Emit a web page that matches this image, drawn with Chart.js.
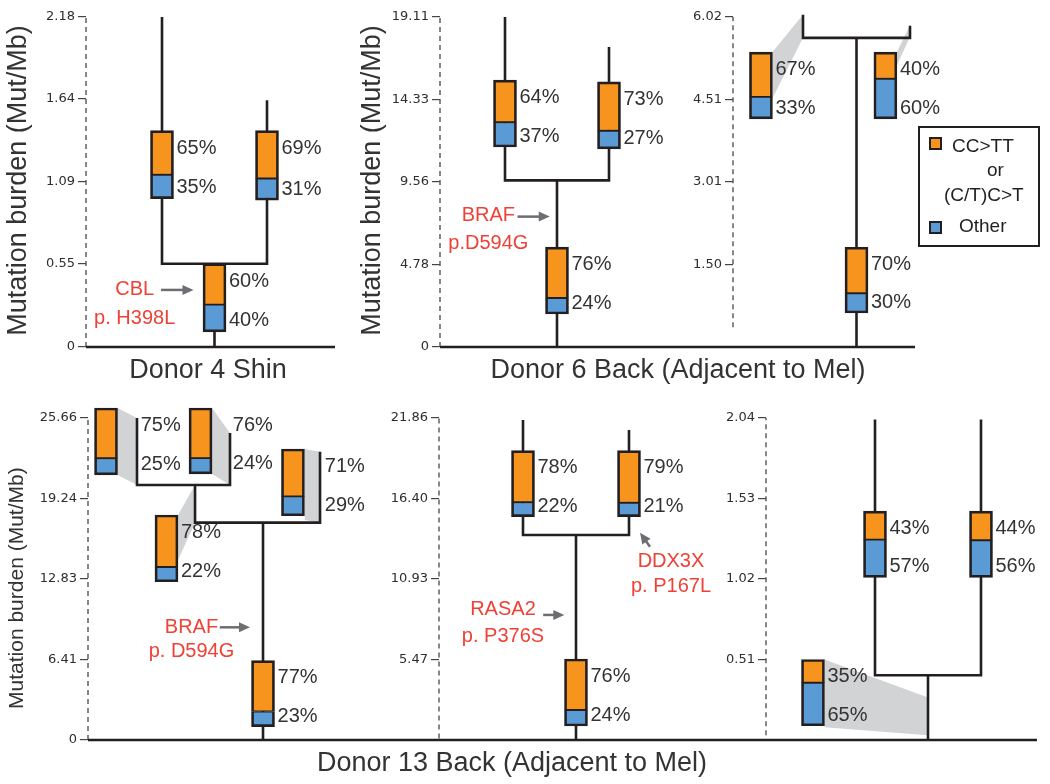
<!DOCTYPE html>
<html lang="en">
<head>
<meta charset="utf-8">
<title>Mutation burden trees</title>
<script src="https://cdn.jsdelivr.net/npm/chart.js@4.4.1/dist/chart.umd.min.js"></script>
<style>
  html, body { margin: 0; background: #fff; }
  #fig { position: relative; width: 1050px; height: 784px; overflow: hidden;
         font-family: "Liberation Sans", Arial, sans-serif; color: #333; }
  #fig canvas { position: absolute; left: 0; top: 0; }
  .ttl { position: absolute; font-size: 27px; line-height: 30px; white-space: nowrap; transform: translateX(-50%); }
  .legend { position: absolute; left: 918px; top: 126px; width: 122px; height: 121px; box-sizing: border-box;
            border: 2.5px solid #231f20; font-size: 19px; color: #231f20; }
  .legend span { position: absolute; line-height: 22px; white-space: nowrap; }
  .legend .sw { width: 13px; height: 13px; box-sizing: border-box; border: 2px solid #231f20; }
</style>
</head>
<body>
<div id="fig">
  <canvas id="panelA" width="1050" height="784"></canvas>
  <canvas id="panelB" width="1050" height="784"></canvas>
  <canvas id="panelC" width="1050" height="784"></canvas>
  <canvas id="panelD" width="1050" height="784"></canvas>
  <canvas id="panelE" width="1050" height="784"></canvas>
  <canvas id="panelF" width="1050" height="784"></canvas>
  <div class="ttl" style="left:208px;top:354px">Donor 4 Shin</div>
  <div class="ttl" style="left:678px;top:354px">Donor 6 Back (Adjacent to Mel)</div>
  <div class="ttl" style="left:512px;top:747px">Donor 13 Back (Adjacent to Mel)</div>
  <div class="legend">
    <span class="sw" style="left:9px;top:9px;background:#f7941d"></span>
    <span style="left:32px;top:7px">CC&gt;TT</span>
    <span style="left:67px;top:31px">or</span>
    <span style="left:24px;top:56px">(C/T)C&gt;T</span>
    <span class="sw" style="left:9px;top:93px;background:#5b9bd5"></span>
    <span style="left:39px;top:87px">Other</span>
  </div>
</div>
<script>
// colours
const INK = "#231f20", ORANGE = "#f7941d", BLUE = "#5b9bd5", WEDGE = "#d1d3d4";
const RED = "#ef4136", ARROW = "#6d6e71", TEXT = "#333333";
const Y_TITLE = "Mutation burden (Mut/Mb)";

// ---- Donor 4 Shin ----
const ticksA = ["0", "0.55", "1.09", "1.64", "2.18"];
const nodesA = [0.55];
const tipsA = [2.18, 1.63];
const lowA = [0.10, 0.98, 0.97];      // trunk, left, right
const highA = [0.55, 1.43, 1.43];
const ccA = [60, 65, 69];
const otherA = [40, 35, 31];

// ---- Donor 6 Back, tree 1 ----
const ticksB = ["0", "4.78", "9.56", "14.33", "19.11"];
const nodesB = [9.65];
const tipsB = [19.11, 17.37];
const lowB = [1.91, 11.58, 11.47];
const highB = [5.79, 15.46, 15.35];
const ccB = [76, 64, 73];
const otherB = [24, 37, 27];

// ---- Donor 6 Back, tree 2 ----
const ticksC = ["1.50", "3.01", "4.51", "6.02"];
const nodesC = [5.64];
const tipsC = [6.06, 5.86];
const lowC = [0.62, 4.16, 4.16];
const highC = [1.82, 5.38, 5.38];
const ccC = [70, 67, 40];
const otherC = [30, 33, 60];
// wedge: bar top, bar bottom, branch top, branch bottom
const wedgeC = [[5.38, 4.54, 6.06, 5.64], [5.38, 5.14, 5.87, 5.66]];

// ---- Donor 13 Back, tree 1 ----
const ticksD = ["0", "6.41", "12.83", "19.24", "25.66"];
const nodesD = [17.32, 20.32];
const tipsD = [25.66, 24.46, 22.97];
const lowD = [1.06, 21.12, 21.20, 12.61, 17.87];
const highD = [6.32, 26.46, 26.46, 17.93, 23.19];
const ccD = [77, 75, 76, 78, 71];
const otherD = [23, 25, 24, 22, 29];
const wedgeD = [[26.46, 21.12, 25.66, 20.32], [26.46, 21.20, 24.46, 20.32],
                [17.93, 14.34, 20.32, 17.32], [23.19, 17.53, 22.97, 17.32]];

// ---- Donor 13 Back, tree 2 ----
const ticksE = ["5.47", "10.93", "16.40", "21.86"];
const nodesE = [13.92];
const tipsE = [21.72, 21.05];
const lowE = [0.95, 15.16, 15.16];
const highE = [5.50, 19.64, 19.64];
const ccE = [76, 78, 79];
const otherE = [24, 22, 21];

// ---- Donor 13 Back, tree 3 ----
const ticksF = ["0.51", "1.02", "1.53", "2.04"];
const nodesF = [0.41];
const tipsF = [2.03, 2.03];
const lowF = [0.09, 1.03, 1.03];
const highF = [0.51, 1.45, 1.45];
const ccF = [35, 43, 44];
const otherF = [65, 57, 56];
const wedgeF = [[0.51, 0.08, 0.27, 0.03]];

// rows: pixel of value 0, pixel of top tick, top of plot area
const rows = [{ base: 347, top: 17, areaTop: 14 }, { base: 740, top: 418, areaTop: 400 }];
const BAR_W = 23;

// simple two-leaf tree: trunk at 1.5, leaves at 1 and 2
function twoLeaf(node, tips) {
  return [
    [[1.5, 0], [1.5, node]],
    [[1, tips[0]], [1, node], [2, node], [2, tips[1]]],
  ];
}

const panels = [
  { key: "A", row: 0, left: 0, axis: 86, right: 335, col1: 162, colW: 105, yTitle: 27, axisFrom: 0,
    ticks: ticksA, tree: twoLeaf(nodesA[0], tipsA), cols: [1.5, 1, 2],
    low: lowA, high: highA, cc: ccA, other: otherA, wedges: [], wedgeVals: [],
    notes: [{ x: 0.74, y: [0.377, 0.19], text: ["CBL", "p. H398L"], arrow: [[0.99, 0.377], [1.30, 0.377]] }] },
  { key: "B", row: 0, left: 354, axis: 440, right: 733, col1: 505, colW: 104, yTitle: 27, axisFrom: 0,
    ticks: ticksB, tree: twoLeaf(nodesB[0], tipsB), cols: [1.5, 1, 2],
    low: lowB, high: highB, cc: ccB, other: otherB, wedges: [], wedgeVals: [],
    notes: [{ x: 0.84, y: [7.64, 6.02], text: ["BRAF", "p.D594G"], arrow: [[1.12, 7.55], [1.43, 7.55]] }] },
  { key: "C", row: 0, left: 680, axis: 733, right: 915, col1: 803, colW: 107, yTitle: 0, axisFrom: 0.36,
    ticks: ticksC, tree: twoLeaf(nodesC[0], tipsC), cols: [1.5, 0.607, 1.77],
    low: lowC, high: highC, cc: ccC, other: otherC,
    wedges: [{ bar: 1, branch: 1 }, { bar: 2, branch: 2 }], wedgeVals: wedgeC, notes: [] },
  // this title is drawn by the plugin, a bit below the middle of the axis
  { key: "D", row: 1, left: 2, axis: 88, right: 439, col1: 137, colW: 93, yTitle: 0, axisFrom: 0,
    sideTitle: { size: 21, x: 17, at: 12.1 },
    ticks: ticksD,
    tree: [
      [[2.355, 0], [2.355, nodesD[0]]],
      [[1.624, nodesD[1]], [1.624, nodesD[0]], [2.968, nodesD[0]], [2.968, tipsD[2]]],
      [[1, tipsD[0]], [1, nodesD[1]], [2, nodesD[1]], [2, tipsD[1]]],
    ],
    cols: [2.355, 0.667, 1.683, 1.317, 2.677],
    // some percentages sit to the right of the branch instead of the bar
    labelCols: [null, 1.04, 2.03, null, 3.02],
    low: lowD, high: highD, cc: ccD, other: otherD,
    wedges: [{ bar: 1, branch: 1 }, { bar: 2, branch: 2 }, { bar: 3, branch: 1.624 }, { bar: 4, branch: 2.968 }],
    wedgeVals: wedgeD,
    notes: [{ x: 1.586, y: [9.0, 7.04], text: ["BRAF", "p. D594G"], arrow: [[1.89, 8.98], [2.215, 8.98]] }] },
  { key: "E", row: 1, left: 385, axis: 439, right: 766, col1: 523, colW: 106, yTitle: 0, axisFrom: 0.1,
    ticks: ticksE, tree: twoLeaf(nodesE[0], tipsE), cols: [1.5, 1, 2],
    low: lowE, high: highE, cc: ccE, other: otherE, wedges: [], wedgeVals: [],
    notes: [
      { x: 0.811, y: [8.83, 7.01], text: ["RASA2", "p. P376S"], arrow: [[1.19, 8.49], [1.39, 8.49]] },
      { x: 2.396, y: [12.10, 10.41], text: ["DDX3X", "p. P167L"], arrow: [[2.198, 13.12], [2.104, 14.07]] },
    ] },
  { key: "F", row: 1, left: 712, axis: 766, right: 1037, col1: 875, colW: 106, yTitle: 0, axisFrom: 0.03,
    ticks: ticksF, tree: twoLeaf(nodesF[0], tipsF), cols: [0.415, 1, 2],
    low: lowF, high: highF, cc: ccF, other: otherF,
    wedges: [{ bar: 0, branch: 1.5 }], wedgeVals: wedgeF, notes: [] },
];

function lineSet(points, extra) {
  return Object.assign({
    type: "line",
    data: points.map(([x, y]) => ({ x, y })),
    borderColor: INK, borderWidth: 2.6, pointRadius: 0, fill: false, tension: 0,
    borderJoinStyle: "miter", clip: false, order: 2,
  }, extra);
}

function buildDatasets(p, xMin, xMax, topTick) {
  const ds = [];
  const half = BAR_W / 2 / p.colW;
  // grey wedges linking small branches to their enlarged bar
  p.wedges.forEach((w, i) => {
    const v = p.wedgeVals[i];
    const bx = p.cols[w.bar] + half;
    ds.push(lineSet([[bx, v[0]], [w.branch, v[2]]],
      { fill: "+1", backgroundColor: WEDGE, borderColor: "rgba(0,0,0,0)", borderWidth: 1, order: 4 }));
    ds.push(lineSet([[bx, v[1]], [w.branch, v[3]]],
      { borderColor: "rgba(0,0,0,0)", borderWidth: 1, order: 4 }));
  });
  // dashed y axis
  ds.push(lineSet([[xMin, p.axisFrom], [xMin, topTick]],
    { borderColor: "#555", borderWidth: 1.4, borderDash: [5, 4], order: 3 }));
  // baseline + tree
  ds.push(lineSet([[xMin, 0], [xMax, 0]]));
  p.tree.forEach((pts) => ds.push(lineSet(pts)));
  // stacked bars: other at the bottom, CC>TT on top
  const split = p.low.map((lo, i) => lo + (p.other[i] / 100) * (p.high[i] - lo));
  const barBase = {
    type: "bar", borderColor: INK, borderSkipped: false, grouped: false,
    barThickness: BAR_W, maxBarThickness: BAR_W, barPercentage: 1, categoryPercentage: 1,
    clip: false, order: 1,
  };
  ds.push(Object.assign({}, barBase, {
    label: "Other",
    data: p.cols.map((c, i) => ({ x: c, y: [p.low[i], split[i]] })),
    backgroundColor: BLUE,
    borderWidth: { top: 1.3, right: 2.7, bottom: 2.7, left: 2.7 },
  }));
  ds.push(Object.assign({}, barBase, {
    label: "CC>TT or (C/T)C>T",
    data: p.cols.map((c, i) => ({ x: c, y: [split[i], p.high[i]] })),
    backgroundColor: ORANGE,
    borderWidth: { top: 2.7, right: 2.7, bottom: 1.3, left: 2.7 },
  }));
  return ds;
}

// percentages next to bars, red mutation notes with grey arrows
function textPlugin(p) {
  return {
    id: "treeText" + p.key,
    afterDatasetsDraw(chart) {
      const { ctx, scales: { x, y } } = chart;
      ctx.save();
      ctx.textBaseline = "middle";
      if (p.sideTitle) {
        ctx.save();
        ctx.translate(p.sideTitle.x, y.getPixelForValue(p.sideTitle.at));
        ctx.rotate(-Math.PI / 2);
        ctx.textAlign = "center";
        ctx.fillStyle = TEXT;
        ctx.font = p.sideTitle.size + 'px "Liberation Sans", Arial, sans-serif';
        ctx.fillText(Y_TITLE, 0, 0);
        ctx.restore();
      }
      ctx.font = '20px "Liberation Sans", Arial, sans-serif';
      ctx.fillStyle = TEXT;
      ctx.textAlign = "left";
      p.cols.forEach((c, i) => {
        const at = p.labelCols && p.labelCols[i] != null ? p.labelCols[i] : null;
        const lx = at != null ? x.getPixelForValue(at) : x.getPixelForValue(c) + BAR_W / 2 + 3;
        const top = y.getPixelForValue(p.high[i]);
        const h = y.getPixelForValue(p.low[i]) - top;
        ctx.fillText(p.cc[i] + "%", lx, top + h * 0.26);
        ctx.fillText(p.other[i] + "%", lx, top + h * 0.84);
      });
      ctx.textAlign = "center";
      p.notes.forEach((n) => {
        ctx.fillStyle = RED;
        n.text.forEach((t, k) => ctx.fillText(t, x.getPixelForValue(n.x), y.getPixelForValue(n.y[k])));
        const x1 = x.getPixelForValue(n.arrow[0][0]), y1 = y.getPixelForValue(n.arrow[0][1]);
        const x2 = x.getPixelForValue(n.arrow[1][0]), y2 = y.getPixelForValue(n.arrow[1][1]);
        const a = Math.atan2(y2 - y1, x2 - x1), cs = Math.cos(a), sn = Math.sin(a);
        ctx.strokeStyle = ARROW;
        ctx.fillStyle = ARROW;
        ctx.lineWidth = 2.5;
        ctx.beginPath();
        ctx.moveTo(x1, y1);
        ctx.lineTo(x2 - 8 * cs, y2 - 8 * sn);
        ctx.stroke();
        ctx.beginPath();
        ctx.moveTo(x2, y2);
        ctx.lineTo(x2 - 11 * cs + 5 * sn, y2 - 11 * sn - 5 * cs);
        ctx.lineTo(x2 - 11 * cs - 5 * sn, y2 - 11 * sn + 5 * cs);
        ctx.closePath();
        ctx.fill();
      });
      ctx.restore();
    },
  };
}

function drawPanel(p) {
  const r = rows[p.row];
  const topTick = parseFloat(p.ticks[p.ticks.length - 1]);
  const yMax = topTick * (r.base - r.areaTop) / (r.base - r.top);
  const xMin = 1 - (p.col1 - p.axis) / p.colW;
  const xMax = 1 + (p.right - p.col1) / p.colW;
  const el = document.getElementById("panel" + p.key);
  return new Chart(el.getContext("2d"), {
    type: "bar",
    data: { datasets: buildDatasets(p, xMin, xMax, topTick) },
    options: {
      responsive: false,
      animation: false,
      events: [],
      layout: { padding: { left: p.left, right: 1050 - p.right, top: r.areaTop, bottom: 784 - r.base } },
      plugins: { legend: { display: false }, tooltip: { enabled: false }, title: { display: false } },
      scales: {
        x: {
          type: "linear", display: false, min: xMin, max: xMax, offset: false, stacked: false,
          afterBuildTicks: (s) => { s.ticks = [{ value: xMin }, { value: xMax }]; },
        },
        y: {
          type: "linear", min: 0, max: yMax, stacked: false,
          afterFit: (s) => { s.width = p.axis - p.left; },
          afterBuildTicks: (s) => { s.ticks = p.ticks.map((t) => ({ value: parseFloat(t) })); },
          ticks: {
            callback: (v, i) => p.ticks[i], autoSkip: false, padding: 3, color: "#2e2e2e",
            font: { family: "'DejaVu Sans', sans-serif", size: 13 },
          },
          grid: { drawOnChartArea: false, drawTicks: true, tickLength: 8, color: "#444", lineWidth: 1.2 },
          border: { display: false },
          title: {
            display: p.yTitle > 0, text: Y_TITLE, color: TEXT,
            font: { family: "'Liberation Sans', Arial, sans-serif", size: p.yTitle || 12 },
            padding: { top: 2, bottom: 0 },
          },
        },
      },
    },
    plugins: [textPlugin(p)],
  });
}

panels.forEach(drawPanel);
</script>
</body>
</html>
